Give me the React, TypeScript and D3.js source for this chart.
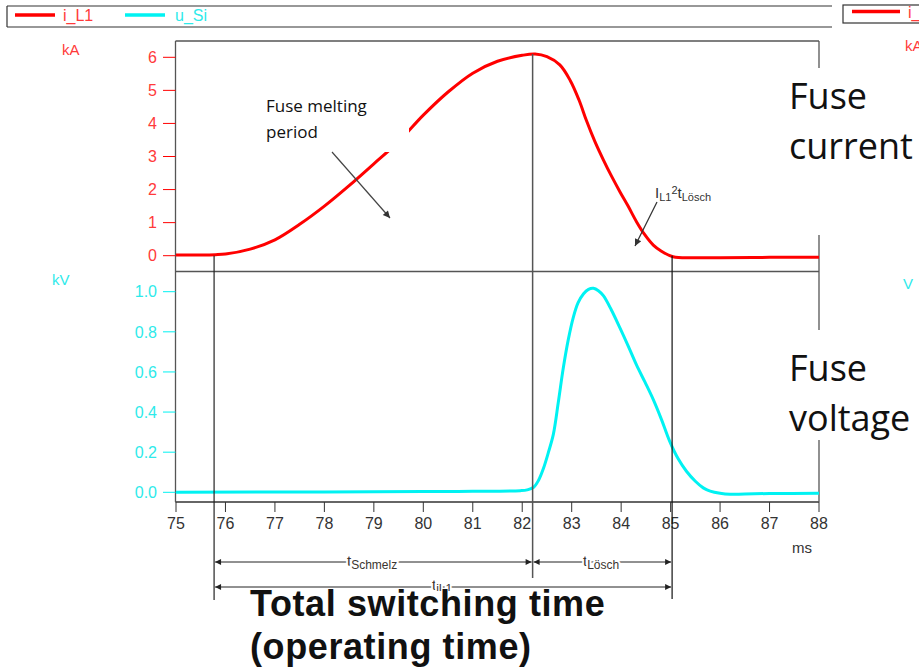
import React from "react";
import * as d3 from "d3";

// ---------- data ----------
const timeTicks = [75, 76, 77, 78, 79, 80, 81, 82, 83, 84, 85, 86, 87, 88];
const currentTicks = [0, 1, 2, 3, 4, 5, 6];
const voltageTicks = [0, 0.2, 0.4, 0.6, 0.8, 1.0];

const currentTime = [75, 75.5, 75.8, 76, 76.5, 77, 77.5, 78, 78.5, 79, 79.5, 80, 80.5, 81, 81.5, 82, 82.26, 82.5, 82.76, 82.97, 83.15, 83.3, 83.47, 83.64, 83.8, 83.98, 84.14, 84.31, 84.47, 84.65, 84.8, 85.05, 85.5, 86, 87, 88];
const currentKA = [0.02, 0.02, 0.03, 0.05, 0.2, 0.48, 0.95, 1.5, 2.12, 2.78, 3.45, 4.25, 4.95, 5.52, 5.88, 6.06, 6.1, 6.02, 5.77, 5.3, 4.7, 4.08, 3.45, 2.9, 2.42, 1.92, 1.5, 1.03, 0.65, 0.32, 0.15, -0.03, -0.06, -0.06, -0.05, -0.05];

const voltageTime = [75, 78, 80, 81, 81.96, 82.1, 82.23, 82.33, 82.43, 82.53, 82.63, 82.73, 82.83, 82.93, 83.03, 83.13, 83.24, 83.34, 83.44, 83.54, 83.64, 83.8, 83.98, 84.15, 84.31, 84.48, 84.65, 84.82, 84.98, 85.15, 85.32, 85.5, 85.66, 85.8, 86, 86.2, 86.5, 87, 88];
const voltageKV = [0, 0.002, 0.004, 0.005, 0.008, 0.012, 0.025, 0.06, 0.12, 0.2, 0.29, 0.45, 0.62, 0.76, 0.87, 0.945, 0.99, 1.012, 1.017, 1.005, 0.98, 0.91, 0.817, 0.725, 0.635, 0.55, 0.462, 0.36, 0.255, 0.168, 0.105, 0.055, 0.022, 0.006, -0.005, -0.01, -0.008, -0.006, -0.005];

// key instants (ms): start of current, end of melting, end of arcing
const markerTimes = [75.77, 82.21, 85.03];

const seriesNames = ["i_L1", "u_Si"];

// ---------- styles ----------
const RED = "#ff0000";
const RED_TXT = "#ff3a3a";
const CYAN = "#00f2f2";
const CYAN_TXT = "#2eeaea";
const FRAME = "#555";
const AX_FONT = "'Liberation Sans', Arial, sans-serif";
const CAL_FONT = "'Open Sans', sans-serif";

export default function App() {
  const x = d3.scaleLinear().domain([75, 88]).range([176, 819]);
  const yI = d3.scaleLinear().domain([0, 6]).range([255.7, 57.3]);
  const yU = d3.scaleLinear().domain([0, 1]).range([492.3, 291.7]);

  const left = 175.5;
  const right = 819;
  const top = 41;
  const sep = 271.5;
  const bottom = 502;

  const iLine = d3
    .line<number>()
    .x((d, i) => x(currentTime[i]))
    .y((d) => yI(d))
    .curve(d3.curveCatmullRom.alpha(0.5));
  const uLine = d3
    .line<number>()
    .x((d, i) => x(voltageTime[i]))
    .y((d) => yU(d))
    .curve(d3.curveCatmullRom.alpha(0.5));

  const [tStart, tMelt, tEnd] = markerTimes;
  const xs = x(tStart);
  const xm = x(tMelt);
  const xe = x(tEnd);
  const iPeak = d3.max(currentKA) as number;

  const dimY1 = 562;
  const dimY2 = 587;

  return (
    <svg
      width={919}
      height={670}
      style={{ position: "absolute", left: 0, top: 0, background: "#fff" }}
    >
      <defs>
        <marker id="arrEnd" viewBox="0 0 10 10" refX="10" refY="5" markerWidth="9" markerHeight="6" orient="auto" markerUnits="userSpaceOnUse">
          <path d="M0,0 L10,5 L0,10 z" fill="#222" />
        </marker>
        <marker id="arrStart" viewBox="0 0 10 10" refX="0" refY="5" markerWidth="9" markerHeight="6" orient="auto" markerUnits="userSpaceOnUse">
          <path d="M10,0 L0,5 L10,10 z" fill="#222" />
        </marker>
        <marker id="arrGray" viewBox="0 0 10 10" refX="10" refY="5" markerWidth="10" markerHeight="7" orient="auto" markerUnits="userSpaceOnUse">
          <path d="M0,0 L10,5 L0,10 z" fill="#333" />
        </marker>
      </defs>

      {/* legend (left chart) */}
      <line x1={7} y1={6} x2={832} y2={6} stroke="#333" strokeWidth={1.2} />
      <line x1={7} y1={27} x2={832} y2={27} stroke="#333" strokeWidth={1.2} />
      <line x1={7} y1={6} x2={7} y2={27} stroke="#333" strokeWidth={1.2} />
      <line x1={15} y1={15} x2={55} y2={15} stroke={RED} strokeWidth={3.5} />
      <text x={63} y={21} fill={RED_TXT} fontFamily={AX_FONT} fontSize={16}>{seriesNames[0]}</text>
      <line x1={125} y1={15} x2={165} y2={15} stroke={CYAN} strokeWidth={3.5} />
      <text x={175} y={21} fill={CYAN_TXT} fontFamily={AX_FONT} fontSize={16}>{seriesNames[1]}</text>

      {/* legend (cropped duplicate chart, right edge) */}
      <rect x={843} y={5} width={90} height={18} fill="none" stroke="#333" strokeWidth={1.2} />
      <line x1={852} y1={11.5} x2={900} y2={11.5} stroke={RED} strokeWidth={3.5} />
      <text x={908} y={17.5} fill={RED_TXT} fontFamily={AX_FONT} fontSize={16}>{seriesNames[0]}</text>
      <text x={905} y={50.5} fill={RED_TXT} fontFamily={AX_FONT} fontSize={15}>kA</text>
      <text x={903} y={288.5} fill={CYAN_TXT} fontFamily={AX_FONT} fontSize={15}>V</text>

      {/* units */}
      <text x={62} y={55} fill={RED_TXT} fontFamily={AX_FONT} fontSize={15}>kA</text>
      <text x={52} y={285} fill={CYAN_TXT} fontFamily={AX_FONT} fontSize={15}>kV</text>

      {/* frame */}
      <line x1={left} y1={top} x2={right} y2={top} stroke={FRAME} strokeWidth={1.3} />
      <line x1={left} y1={sep} x2={right} y2={sep} stroke={FRAME} strokeWidth={1.3} />
      <line x1={left} y1={bottom} x2={right} y2={bottom} stroke="#333" strokeWidth={1.3} />
      <line x1={left} y1={top} x2={left} y2={bottom} stroke={FRAME} strokeWidth={1.3} />
      <line x1={right} y1={top} x2={right} y2={bottom} stroke={FRAME} strokeWidth={1.3} />

      {/* y ticks current */}
      {currentTicks.map((t) => (
        <g key={"ci" + t}>
          <line x1={163} y1={yI(t)} x2={left} y2={yI(t)} stroke={RED} strokeWidth={1} />
          <text x={157} y={yI(t)} dy="0.36em" textAnchor="end" fill={RED_TXT} fontFamily={AX_FONT} fontSize={16}>
            {d3.format("d")(t)}
          </text>
        </g>
      ))}
      {/* y ticks voltage */}
      {voltageTicks.map((t) => (
        <g key={"vu" + t}>
          <line x1={163} y1={yU(t)} x2={left} y2={yU(t)} stroke={CYAN} strokeWidth={1} />
          <text x={157} y={yU(t)} dy="0.36em" textAnchor="end" fill={CYAN_TXT} fontFamily={AX_FONT} fontSize={16}>
            {d3.format(".1f")(t)}
          </text>
        </g>
      ))}
      {/* x ticks */}
      {timeTicks.map((t) => (
        <g key={"t" + t}>
          <line x1={x(t)} y1={bottom} x2={x(t)} y2={bottom + 10} stroke="#333" strokeWidth={1} />
          <text x={x(t)} y={529} textAnchor="middle" fill="#333" fontFamily={AX_FONT} fontSize={16}>
            {t}
          </text>
        </g>
      ))}
      <text x={792} y={553} fill="#333" fontFamily={AX_FONT} fontSize={15}>ms</text>

      {/* curves */}
      <path d={iLine(currentKA) || ""} fill="none" stroke={RED} strokeWidth={3} strokeLinejoin="round" />
      <path d={uLine(voltageKV) || ""} fill="none" stroke={CYAN} strokeWidth={3} strokeLinejoin="round" />

      {/* marker verticals */}
      <line x1={xs} y1={yI(0)} x2={xs} y2={600} stroke="#222" strokeWidth={1.2} />
      <line x1={xm} y1={yI(iPeak)} x2={xm} y2={578} stroke="#555" strokeWidth={1.5} />
      <line x1={xe} y1={yI(0)} x2={xe} y2={599} stroke="#111" strokeWidth={1.2} />

      {/* dimension lines */}
      <line x1={xs + 1} y1={dimY1} x2={xm - 1} y2={dimY1} stroke="#222" strokeWidth={1} markerStart="url(#arrStart)" markerEnd="url(#arrEnd)" />
      <line x1={xm + 1} y1={dimY1} x2={xe - 1} y2={dimY1} stroke="#222" strokeWidth={1} markerStart="url(#arrStart)" markerEnd="url(#arrEnd)" />
      <line x1={xs + 1} y1={dimY2} x2={xe - 1} y2={dimY2} stroke="#222" strokeWidth={1} markerStart="url(#arrStart)" markerEnd="url(#arrEnd)" />

      <text x={347} y={566} fill="#3a3530" fontFamily={AX_FONT} fontSize={15} stroke="#fff" strokeWidth={4} paintOrder="stroke">
        t<tspan fontSize={12} dy={2.5}>Schmelz</tspan>
      </text>
      <text x={583} y={566} fill="#3a3530" fontFamily={AX_FONT} fontSize={15} stroke="#fff" strokeWidth={4} paintOrder="stroke">
        t<tspan fontSize={12} dy={2.5}>Lösch</tspan>
      </text>
      <text x={432} y={590} fill="#3a3530" fontFamily={AX_FONT} fontSize={15} stroke="#fff" strokeWidth={4} paintOrder="stroke">
        t<tspan fontSize={12} dy={2.5}>iL1</tspan>
      </text>

      {/* I²t annotation */}
      <text x={655} y={198} fill="#333" fontFamily={AX_FONT} fontSize={15}>
        I<tspan fontSize={11} dy={2.5}>L1</tspan>
        <tspan fontSize={11} dy={-6.5}>2</tspan>
        <tspan fontSize={15} dy={4}>t</tspan>
        <tspan fontSize={11} dy={2.5}>Lösch</tspan>
      </text>
      <line x1={657} y1={202} x2={635} y2={246} stroke="#333" strokeWidth={1.2} markerEnd="url(#arrGray)" />

      {/* Fuse melting period annotation box */}
      <rect x={255} y={88} width={154} height={64} fill="#fff" />
      <text x={266} y={112} fill="#111" fontFamily={CAL_FONT} fontSize={17}>Fuse melting</text>
      <text x={266} y={138} fill="#111" fontFamily={CAL_FONT} fontSize={17}>period</text>
      <line x1={332} y1={152} x2={390} y2={218} stroke="#444" strokeWidth={1.2} markerEnd="url(#arrGray)" />

      {/* right side big labels */}
      <rect x={781} y={68} width={138} height={167} fill="#fff" />
      <text x={789} y={109} fill="#111" fontFamily={CAL_FONT} fontSize={36}>Fuse</text>
      <text x={789} y={159} fill="#111" fontFamily={CAL_FONT} fontSize={36}>current</text>
      <rect x={781} y={330} width={138} height={110} fill="#fff" />
      <text x={789} y={381} fill="#111" fontFamily={CAL_FONT} fontSize={36}>Fuse</text>
      <text x={789} y={431} fill="#111" fontFamily={CAL_FONT} fontSize={36}>voltage</text>

      {/* bottom bold caption */}
      <rect x={246} y={591} width={370} height={79} fill="#fff" />
      <text x={250} y={616} fill="#111" fontFamily={AX_FONT} fontWeight="bold" fontSize={36} letterSpacing={0.6}>Total switching time</text>
      <text x={250} y={659} fill="#111" fontFamily={AX_FONT} fontWeight="bold" fontSize={36} letterSpacing={0.6}>(operating time)</text>
    </svg>
  );
}
